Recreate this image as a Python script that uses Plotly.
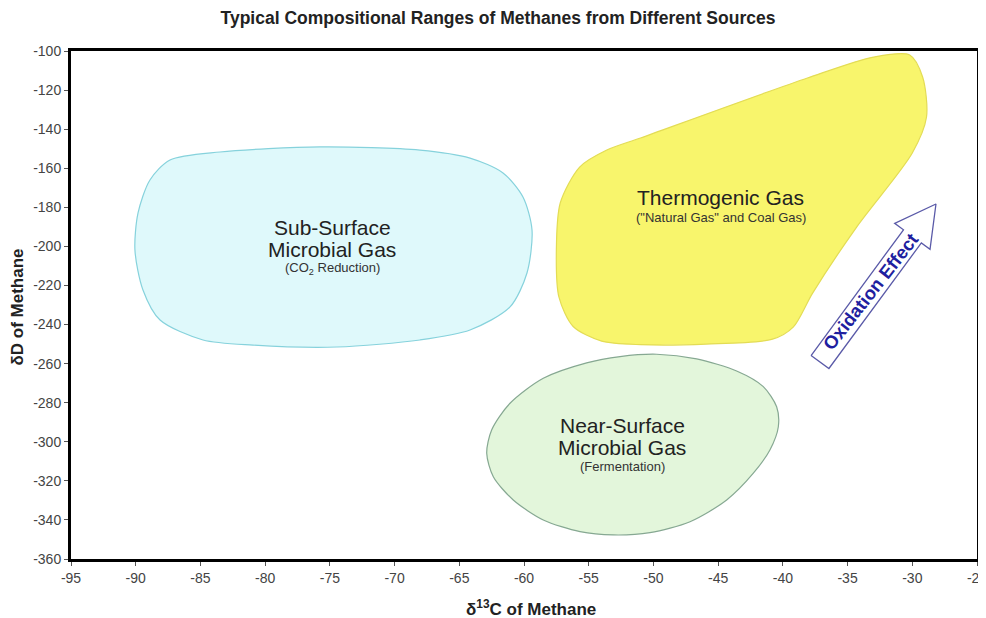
import plotly.graph_objects as go

# ---- data ----
x_ticks = [-95, -90, -85, -80, -75, -70, -65, -60, -55, -50, -45, -40, -35, -30, -25]
y_ticks = [-100, -120, -140, -160, -180, -200, -220, -240, -260, -280, -300, -320, -340, -360]

sub_x = [-87.35, -83.49, -75.76, -68.04, -64.17, -61.62, -60.08, -59.38, -59.77, -61.08,
         -64.17, -68.04, -74.45, -80.94, -84.80, -88.12, -89.44, -90.06, -89.82, -88.90]
sub_y = [-155.8, -151.7, -149.1, -150.7, -154.8, -162.4, -174.7, -191.6, -213.6, -231.0,
         -242.8, -247.9, -251.5, -250.5, -247.9, -237.7, -222.3, -201.9, -182.9, -166.0]

thermo_x = [-30.2, -29.2, -28.9, -30.0, -34.3, -37.7, -39.2, -40.8, -45.9, -51.0,
            -54.0, -56.2, -57.3, -57.5, -57.2, -55.7, -53.6, -51.0, -38.1, -33.0]
thermo_y = [-102.0, -113.3, -133.8, -152.2, -190.1, -223.9, -241.3, -247.5, -250.0, -250.3,
            -248.5, -241.0, -226.0, -201.9, -177.8, -159.4, -150.7, -144.5, -113.8, -103.1]

near_x = [-49.75, -46.66, -43.57, -41.51, -40.48, -40.35, -41.00, -42.28, -44.34, -47.17, -50.27,
          -53.10, -55.67, -58.51, -60.83, -62.37, -62.88, -62.50, -61.08, -58.51, -55.16, -52.58]
near_y = [-255.2, -257.6, -263.8, -271.8, -282.1, -292.3, -304.2, -316.1, -329.8, -340.9, -346.5,
          -347.7, -346.0, -340.0, -329.8, -317.9, -305.9, -294.0, -280.3, -267.5, -259.6, -256.4]

arrow_x = [-37.82, -36.44, -29.30, -28.63, -28.17, -31.36, -30.68]
arrow_y = [-255.85, -262.5, -198.2, -201.5, -178.3, -188.2, -191.5]

label_lines = ["Sub-Surface", "Microbial Gas", "Thermogenic Gas", "Near-Surface", "Microbial Gas"]
label_x = [-74.8, -74.8, -44.8, -52.4, -52.4]
label_y = [-190.4, -201.6, -175.2, -291.6, -302.9]
sublabels = ["(CO<sub>2</sub> Reduction)", "(\"Natural Gas\" and Coal Gas)", "(Fermentation)"]
sublabel_x = [-74.8, -44.8, -52.4]
sublabel_y = [-211.4, -185.0, -312.6]


def closed(xs, ys):
    return list(xs) + [xs[0]], list(ys) + [ys[0]]


FONT = "Liberation Sans, Arial, sans-serif"

fig = go.Figure()

regions = [
    (sub_x, sub_y, "#dff9fb", "#86d2dc"),
    (thermo_x, thermo_y, "#f8f56c", "#e3dc55"),
    (near_x, near_y, "#e3f6db", "#86a892"),
]
for xs, ys, fill, line in regions:
    cx, cy = closed(xs, ys)
    fig.add_trace(go.Scatter(
        x=cx, y=cy, mode="lines", fill="toself", fillcolor=fill,
        line=dict(color=line, width=1.2, shape="spline", smoothing=0.8),
        hoverinfo="skip", showlegend=False))

ax, ay = closed(arrow_x, arrow_y)
fig.add_trace(go.Scatter(
    x=ax, y=ay, mode="lines", fill="toself", fillcolor="white",
    line=dict(color="#5a5aa8", width=1.3), hoverinfo="skip", showlegend=False))

for t, x, y in zip(label_lines, label_x, label_y):
    fig.add_annotation(x=x, y=y, text=t, showarrow=False,
                       font=dict(family=FONT, size=21, color="#222222"))
for t, x, y in zip(sublabels, sublabel_x, sublabel_y):
    fig.add_annotation(x=x, y=y, text=t, showarrow=False,
                       font=dict(family=FONT, size=13, color="#333333"))

fig.add_annotation(x=-33.2, y=-223.3, text="<b>Oxidation Effect</b>", showarrow=False,
                   textangle=-52,
                   font=dict(family=FONT, size=18.5, color="#1f1fa0"))

# axis titles
fig.add_annotation(xref="paper", yref="paper", x=0.508, y=0, yshift=-49,
                   xanchor="center", yanchor="middle",
                   text="<b>δ<sup>13</sup>C of Methane</b>", showarrow=False,
                   font=dict(family=FONT, size=17, color="#222222"))
fig.add_annotation(xref="paper", yref="paper", x=0, y=0.495, xshift=-53, textangle=-90,
                   xanchor="center", yanchor="middle",
                   text="<b>δD of Methane</b>", showarrow=False,
                   font=dict(family=FONT, size=17, color="#222222"))

# the page body adds an 8px offset, so the figure is sized to fill the rest of the window
fig.update_layout(
    width=978, height=610,
    margin=dict(l=63, r=9, t=43, b=59),
    paper_bgcolor="white", plot_bgcolor="white",
    title=dict(text="<b>Typical Compositional Ranges of Methanes from Different Sources</b>",
               x=0.501, xanchor="center", y=0.984, yanchor="middle", xref="container", yref="container",
               font=dict(family=FONT, size=17.5, color="#222222")),
    font=dict(family=FONT, size=14, color="#444444"),
    xaxis=dict(range=[-95, -25], tickvals=x_ticks, ticktext=[str(v) for v in x_ticks],
               showgrid=False, zeroline=False, showline=True, linecolor="black", linewidth=3,
               mirror=True, ticks="outside", ticklen=4, tickcolor="#555555", automargin=False,
               ticklabeloverflow="allow"),
    yaxis=dict(range=[-360, -100], tickvals=y_ticks, ticktext=[str(v) for v in y_ticks],
               showgrid=False, zeroline=False, showline=True, linecolor="black", linewidth=3,
               mirror=True, ticks="outside", ticklen=4, tickcolor="#555555", automargin=False,
               ticklabeloverflow="allow"),
)

fig.write_html("out.html")
